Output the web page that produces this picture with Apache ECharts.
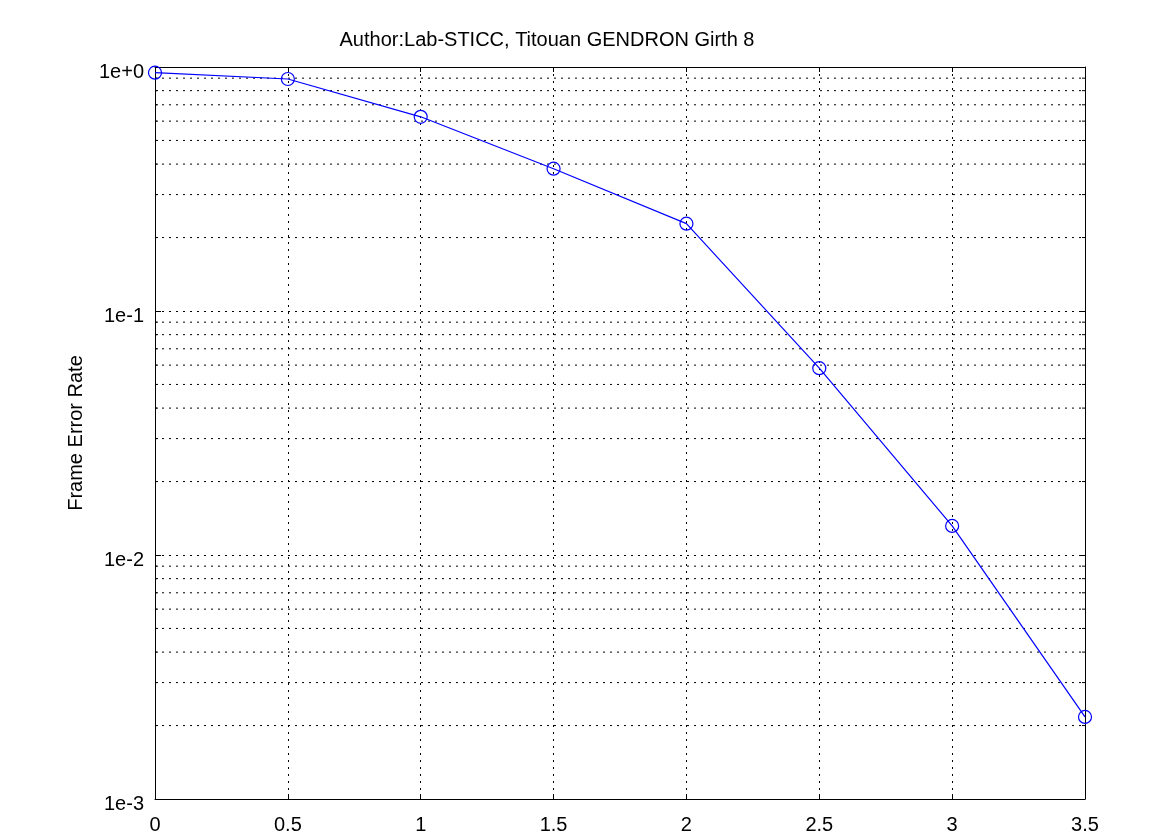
<!DOCTYPE html>
<html>
<head>
<meta charset="utf-8">
<script src="https://cdn.jsdelivr.net/npm/echarts@6/dist/echarts.min.js"></script>
<style>html,body{margin:0;padding:0;background:#fff;}#c{width:1175px;height:835px;}</style>
</head>
<body>
<div id="c"></div>
<script>
const titleText = 'Author:Lab-STICC, Titouan GENDRON Girth 8';
const yAxisName = 'Frame Error Rate';
const snr = [0, 0.5, 1, 1.5, 2, 2.5, 3, 3.5];
const fer = [0.948, 0.893, 0.625, 0.383, 0.228, 0.0583, 0.01316, 0.00217];
const decades = [0.001, 0.01, 0.1];
const multiples = [2, 3, 4, 5, 6, 7, 8, 9];
const xMin = 0, xMax = 3.5, xStep = 0.5;
const yMin = 0.001, yMax = 1;

const FONT = 'Liberation Sans, Arial, sans-serif';
const FS = 20;
const dotted = { color: '#000', width: 1, type: [2, 5] };

const minorValues = [];
decades.forEach(d => multiples.forEach(m => minorValues.push(+(d * m).toPrecision(3))));

const chart = echarts.init(document.getElementById('c'), null, { renderer: 'canvas' });
chart.setOption({
  animation: false,
  backgroundColor: '#fff',
  title: {
    text: titleText,
    left: 542, top: 25, textAlign: 'center',
    textStyle: { fontFamily: FONT, fontSize: FS, fontWeight: 'normal', color: '#000' }
  },
  grid: { left: 155, right: 90, top: 67, bottom: 34, containLabel: false },
  xAxis: [{
    type: 'value', min: xMin, max: xMax, interval: xStep,
    axisLine: { show: true, onZero: false, lineStyle: { color: '#000', width: 1 } },
    axisTick: { show: true, inside: true, length: 5, lineStyle: { color: '#000' } },
    axisLabel: { fontFamily: FONT, fontSize: FS, color: '#000', margin: 16 },
    splitLine: { show: true, lineStyle: dotted }
  }, {
    type: 'value', min: xMin, max: xMax, interval: xStep, position: 'top',
    axisLine: { show: true, onZero: false, lineStyle: { color: '#000', width: 1 } },
    axisTick: { show: true, inside: true, length: 5, lineStyle: { color: '#000' } },
    axisLabel: { show: false }, splitLine: { show: false }
  }],
  yAxis: [{
    type: 'log', logBase: 10, min: yMin, max: yMax,
    name: yAxisName, nameLocation: 'middle', nameGap: 69, nameRotate: 90,
    nameTextStyle: { fontFamily: FONT, fontSize: FS, color: '#000' },
    axisLine: { show: true, onZero: false, lineStyle: { color: '#000', width: 1 } },
    axisTick: { show: true, inside: true, length: 6, lineStyle: { color: '#000' } },
    axisLabel: { fontFamily: FONT, fontSize: FS, color: '#000', margin: 11,
      formatter: v => { const e = Math.round(Math.log10(v)); return '{a|1e' + (e >= 0 ? '+' : '') + e + '}'; },
      rich: { a: { fontFamily: FONT, fontSize: FS, color: '#000', padding: [10, 0, 0, 0] } } },
    splitLine: { show: true, lineStyle: dotted }
  }, {
    type: 'log', logBase: 10, min: yMin, max: yMax, position: 'right',
    axisLine: { show: true, onZero: false, lineStyle: { color: '#000', width: 1 } },
    axisTick: { show: true, inside: true, length: 6, lineStyle: { color: '#000' } },
    axisLabel: { show: false }, splitLine: { show: false }
  }],
  series: [{
    type: 'custom',
    xAxisIndex: 0, yAxisIndex: 0,
    silent: true, z: 1,
    data: minorValues.map(v => [xMin, v]),
    encode: { x: 0, y: 1 },
    renderItem: (params, api) => {
      const v = api.value(1);
      const a = api.coord([xMin, v]);
      const b = api.coord([xMax, v]);
      return {
        type: 'group',
        children: [
          { type: 'line', shape: { x1: a[0], y1: a[1], x2: b[0], y2: b[1] },
            style: { stroke: '#000', lineWidth: 1, lineDash: [2, 5] } },
          { type: 'line', shape: { x1: a[0], y1: a[1], x2: a[0] + 3, y2: a[1] },
            style: { stroke: '#000', lineWidth: 1 } },
          { type: 'line', shape: { x1: b[0] - 3, y1: b[1], x2: b[0], y2: b[1] },
            style: { stroke: '#000', lineWidth: 1 } }
        ]
      };
    }
  }, {
    type: 'line',
    data: snr.map((x, i) => [x, fer[i]]),
    xAxisIndex: 0, yAxisIndex: 0,
    symbol: 'circle', symbolSize: 13,
    itemStyle: { color: 'rgba(0,0,0,0)', borderColor: '#0000ff', borderWidth: 1.2 },
    lineStyle: { color: '#0000ff', width: 1.2 },
    z: 5
  }]
});
</script>
</body>
</html>
